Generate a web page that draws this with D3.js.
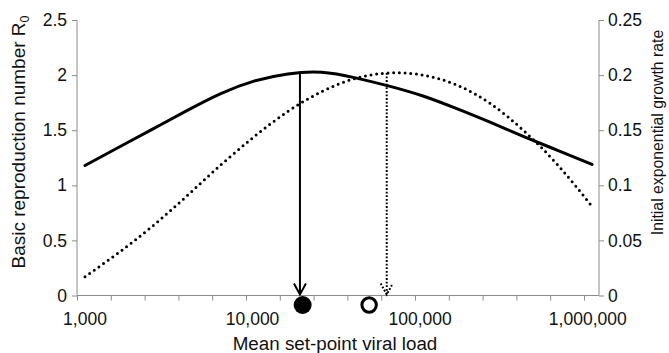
<!DOCTYPE html>
<html>
<head>
<meta charset="utf-8">
<script src="https://cdn.jsdelivr.net/npm/d3@7"></script>
<style>
  html, body { margin: 0; padding: 0; background: #fff; }
  svg { display: block; font-family: "Liberation Sans", Arial, sans-serif; }
</style>
</head>
<body>
<svg id="chart" width="669" height="353"></svg>
<script>
// Mean set-point viral load, sampled every 0.2 log10 units from 1,000 to 1,000,000
const logLoad = [3.0, 3.2, 3.4, 3.6, 3.8, 4.0, 4.2, 4.4, 4.6, 4.8, 5.0, 5.2, 5.4, 5.6, 5.8, 6.0];
// Basic reproduction number R0 (left axis)
const r0Values = [1.18, 1.345, 1.51, 1.675, 1.83, 1.945, 2.01, 2.025, 1.975, 1.90, 1.81, 1.695, 1.57, 1.44, 1.315, 1.19];
// Initial exponential growth rate (right axis)
const growthValues = [0.017, 0.039, 0.063, 0.090, 0.118, 0.144, 0.167, 0.185, 0.197, 0.202, 0.200, 0.191, 0.174, 0.149, 0.118, 0.081];
// Viral loads that maximise each quantity
const peakR0Load = 18700;
const peakGrowthLoad = 61000;
// Observed set-point viral loads shown below the axis
const observedLoads = [19400, 48000];
const observedFilled = [true, false];
// Axis ticks
const xLabelValues = [1000, 10000, 100000, 1000000];
const leftTicks = [0, 0.5, 1, 1.5, 2, 2.5];
const rightTicks = [0, 0.05, 0.1, 0.15, 0.2, 0.25];

const svg = d3.select("#chart");
const plotLeft = 77, plotRight = 599, plotTop = 20, plotBottom = 295.5;
const axisColor = "#8c8c8c";
const fontSize = 17.5;

// x: log scale; data span 1,000 – 1,000,000 sits slightly inside the axis ends
const x = d3.scaleLog().domain([1000, 1e6]).range([85, 592]);
const xMin = x.invert(plotLeft);
const yL = d3.scaleLinear().domain([0, 2.5]).range([plotBottom, plotTop]);
const yR = d3.scaleLinear().domain([0, 0.25]).range([plotBottom, plotTop]);

// ---- axes ----
const minorTicks = d3.range(16).map(k => xMin * Math.pow(10, 0.2 * k));

const gx = svg.append("g").attr("transform", `translate(0,${plotBottom})`)
  .call(d3.axisBottom(x).tickValues(minorTicks).tickSize(5).tickFormat(""));
gx.select(".domain").attr("d", `M${plotLeft},0H${plotRight}`).attr("stroke", axisColor);
gx.selectAll("line").attr("stroke", axisColor);

svg.append("g").selectAll("text").data(xLabelValues).join("text")
  .attr("x", d => x(d) - (Math.log10(d) - 3) * 1.4).attr("y", 325)
  .attr("text-anchor", "middle").attr("font-size", fontSize).attr("fill", "#111")
  .text(d => d3.format(",")(d));

const gl = svg.append("g").attr("transform", `translate(${plotLeft},0)`)
  .call(d3.axisLeft(yL).tickValues(leftTicks).tickSize(5).tickPadding(5)
    .tickFormat(d => d3.format("")(d)));
gl.select(".domain").attr("d", `M0,${plotTop}V${plotBottom}`).attr("stroke", axisColor);
gl.selectAll("line").attr("stroke", axisColor);
gl.selectAll("text").attr("font-size", fontSize).attr("fill", "#111");
gl.attr("font-family", null);

const gr = svg.append("g").attr("transform", `translate(${plotRight},0)`)
  .call(d3.axisRight(yR).tickValues(rightTicks).tickSize(5).tickPadding(4)
    .tickFormat(d => d3.format("")(d)));
gr.select(".domain").attr("d", `M0,${plotTop}V${plotBottom}`).attr("stroke", axisColor);
gr.selectAll("line").attr("stroke", axisColor);
gr.selectAll("text").attr("font-size", fontSize).attr("fill", "#111");
gr.attr("font-family", null);

// axis titles
svg.append("text").attr("x", 335).attr("y", 350).attr("text-anchor", "middle")
  .attr("font-size", 18.8).attr("fill", "#111").text("Mean set-point viral load");

const lt = svg.append("text").attr("transform", "translate(25,142) rotate(-90)")
  .attr("text-anchor", "middle").attr("font-size", 19).attr("fill", "#111");
lt.append("tspan").text("Basic reproduction number R");
lt.append("tspan").attr("font-size", 12.5).attr("dy", 4).text("0");

svg.append("text").attr("transform", "translate(663,132.5) rotate(-90)")
  .attr("text-anchor", "middle").attr("font-size", 15.8).attr("fill", "#111")
  .text("Initial exponential growth rate");

// ---- curves ----
const loads = logLoad.map(v => Math.pow(10, v));

const r0Line = d3.line().x((d, i) => x(loads[i])).y(d => yL(d)).curve(d3.curveNatural);
const grLine = d3.line().x((d, i) => x(loads[i])).y(d => yR(d)).curve(d3.curveNatural);

svg.append("path").attr("d", r0Line(r0Values)).attr("fill", "none")
  .attr("stroke", "#000").attr("stroke-width", 3).attr("stroke-linejoin", "round").attr("stroke-linecap", "round");
svg.append("path").attr("d", grLine(growthValues)).attr("fill", "none")
  .attr("stroke", "#000").attr("stroke-width", 3).attr("stroke-dasharray", "0 5.7").attr("stroke-linecap", "round");

// ---- arrows from each peak down to the axis ----
function arrow(xv, yTop, dashed) {
  const g = svg.append("g");
  const px = x(xv), tip = plotBottom - 1;
  const shaft = g.append("line").attr("x1", px).attr("x2", px).attr("y1", yTop).attr("y2", tip)
    .attr("stroke", "#000").attr("stroke-width", 2);
  const head = g.append("path").attr("d", `M${px - 6},${tip - 11}L${px},${tip}L${px + 6},${tip - 11}`)
    .attr("fill", "none").attr("stroke", "#000").attr("stroke-width", 2);
  if (dashed) {
    shaft.attr("stroke-dasharray", "1.8 1.8");
    head.attr("stroke-dasharray", "1.8 1.8");
  }
}
arrow(peakR0Load, yL(d3.max(r0Values)), false);
arrow(peakGrowthLoad, yR(d3.max(growthValues)), true);

// ---- observed values below the axis ----
svg.append("g").selectAll("circle").data(observedLoads).join("circle")
  .attr("cx", d => x(d)).attr("cy", plotBottom + 9.5)
  .attr("r", (d, i) => observedFilled[i] ? 9 : 7.2)
  .attr("fill", (d, i) => observedFilled[i] ? "#000" : "#fff")
  .attr("stroke", "#000").attr("stroke-width", (d, i) => observedFilled[i] ? 0 : 3);
</script>
</body>
</html>
